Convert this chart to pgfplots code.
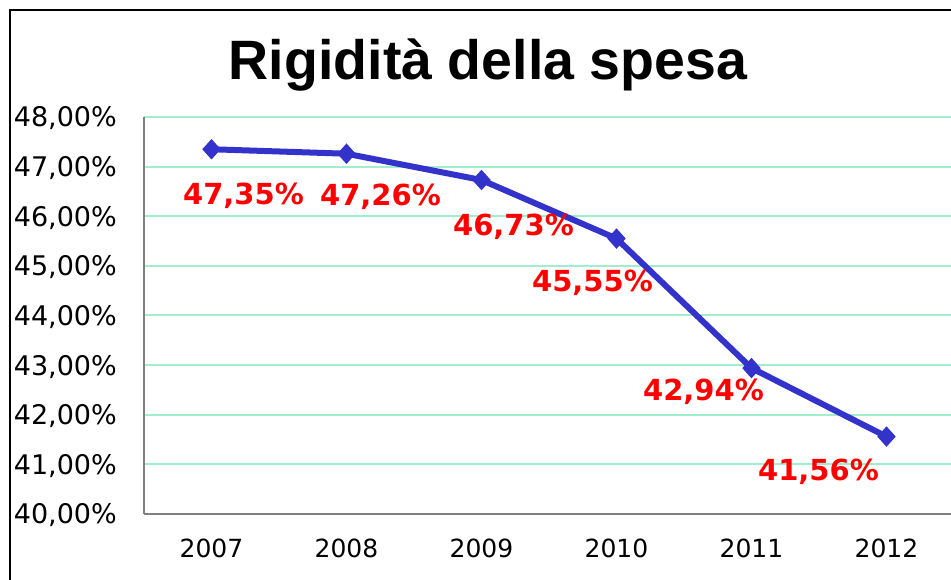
\documentclass[border=0pt]{standalone}
\usepackage{pgfplots}
\pgfplotsset{compat=1.18}
\usepackage{fontspec}
\setmainfont{DejaVu Sans}
\newfontfamily\titlefont{Liberation Sans}
\definecolor{gridc}{RGB}{160,238,205}
\definecolor{linec}{RGB}{51,51,204}
\begin{document}
\begin{tikzpicture}[x=1pt,y=1pt]
\useasboundingbox (0,0) rectangle (951,580);
\draw[line width=2pt, black] (10,-50) -- (10,570) -- (1000,570);
\node[anchor=base, inner sep=0pt] at (488,500) {\titlefont\bfseries\fontsize{55.5}{60}\selectfont Rigidità della spesa};
\begin{axis}[
  at={(144pt,66pt)}, anchor=south west,
  scale only axis, width=810pt, height=397pt,
  xmin=-0.5, xmax=5.5, ymin=40, ymax=48,
  xtick={0,1,2,3,4,5},
  xticklabels={2007,2008,2009,2010,2011,2012},
  ytick={40,41,42,43,44,45,46,47,48},
  yticklabel={\pgfmathprintnumber[fixed,fixed zerofill,precision=2,use comma,assume math mode=true]{\tick}\%},
  axis lines*=left,
  axis line style={draw=gray, line width=2pt, -},
  major tick length=0pt,
  tick style={draw=none},
  ymajorgrids,
  grid style={color=gridc, line width=2pt},
  yticklabel style={anchor=base east, inner sep=0pt, yshift=-10pt, font=\fontsize{27}{30}\selectfont},
  yticklabel shift=27pt,
  xticklabel style={anchor=base, inner sep=0pt, font=\fontsize{25}{30}\selectfont},
  xticklabel shift=44pt,
  clip=false,
]
\addplot[color=linec, line width=6pt, mark=diamond*, mark size=9.5pt,
  mark options={solid, line width=1pt, fill=linec, draw=linec, xscale=1.2}]
  table[x=x, y=y] {
x y
0 47.35
1 47.26
2 46.73
3 45.55
4 42.94
5 41.56
};
\addplot[draw=none, mark=none,
  point meta=y,
  visualization depends on={value \thisrow{dx}\as\dx},
  visualization depends on={value \thisrow{dy}\as\dy},
  nodes near coords={\pgfmathprintnumber[fixed,fixed zerofill,precision=2,use comma,assume math mode=true]{\pgfplotspointmeta}\%},
  nodes near coords style={anchor=base, inner sep=0pt, xshift=\dx pt, yshift=\dy pt, text=red, font=\bfseries\fontsize{29}{30}\selectfont},
]
  table[x=x, y=y] {
x y dx dy
0 47.35 32 -55.7
1 47.26 34 -51.3
2 46.73 32 -55
3 45.55 -24 -53.4
4 42.94 -48 -32
5 41.56 -68 -44.4
};
\end{axis}
\end{tikzpicture}
\end{document}
